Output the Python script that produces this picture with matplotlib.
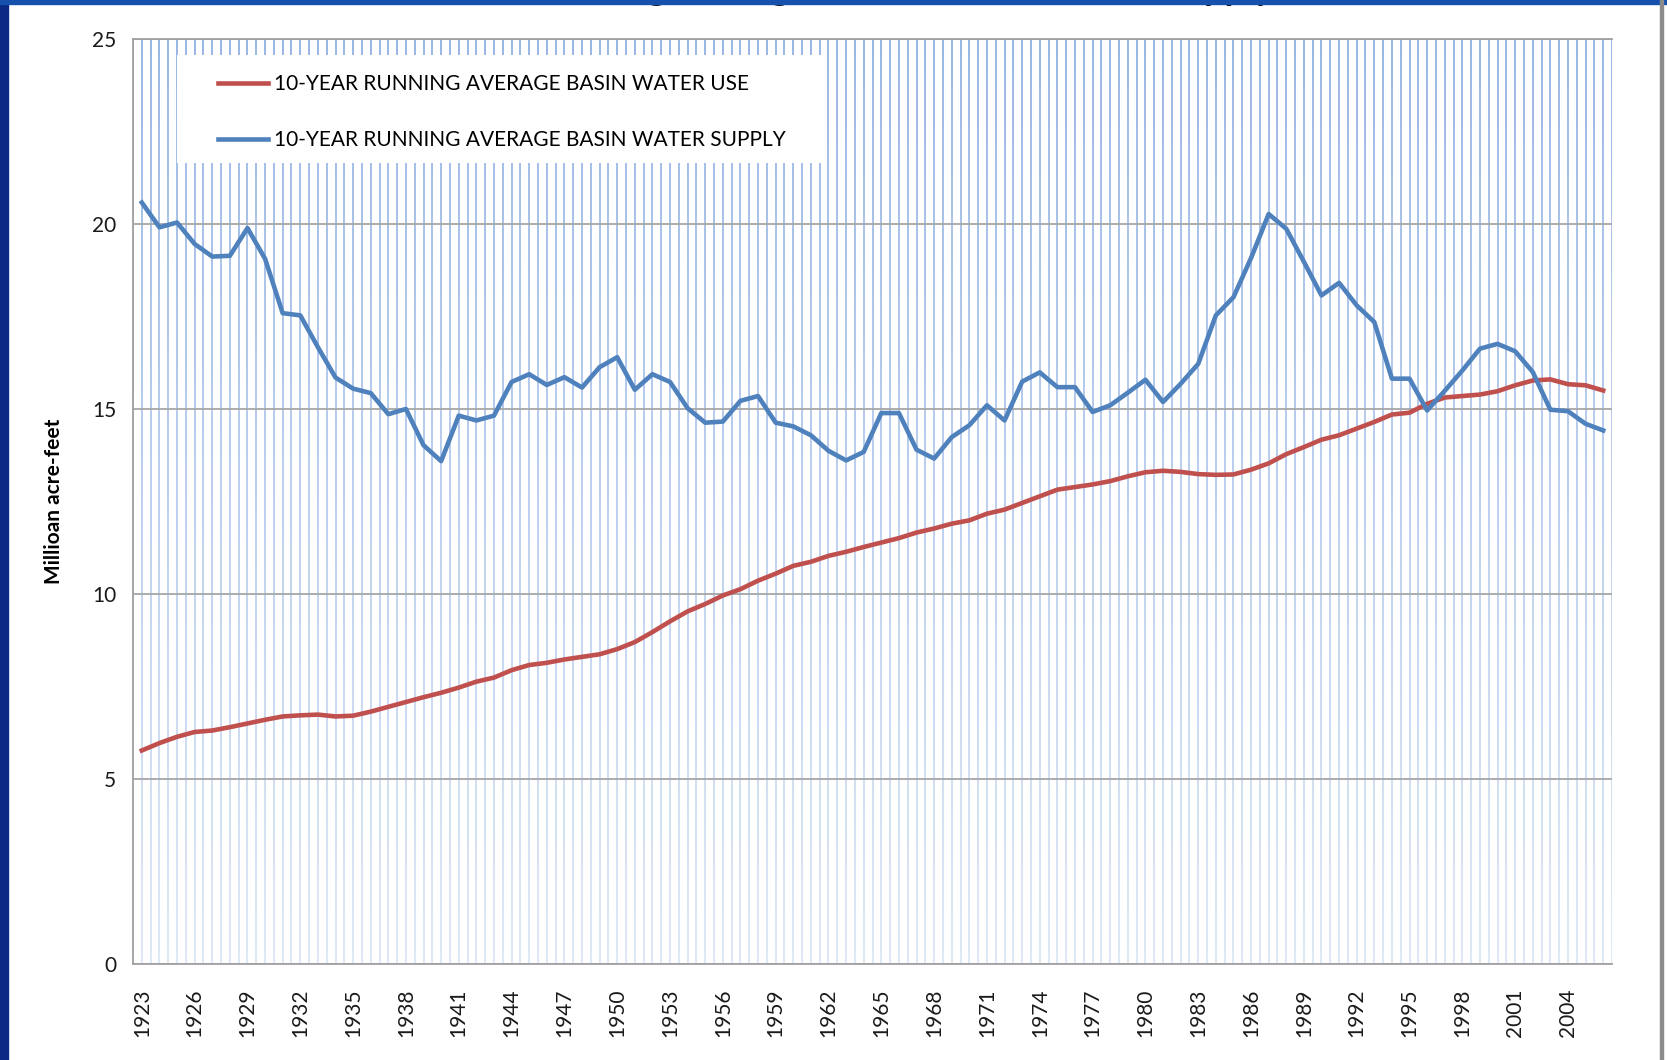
import numpy as np
import matplotlib.pyplot as plt
from matplotlib.patches import Rectangle

# data (million acre-feet)
years = np.arange(1923, 2007)
water_use = [5.77, 5.97, 6.14, 6.27, 6.31, 6.40, 6.50, 6.60, 6.69, 6.72,
             6.74, 6.69, 6.71, 6.82, 6.95, 7.08, 7.21, 7.33, 7.47, 7.63,
             7.74, 7.94, 8.08, 8.14, 8.23, 8.30, 8.37, 8.51, 8.70, 8.97,
             9.26, 9.53, 9.73, 9.96, 10.13, 10.36, 10.55, 10.76, 10.87, 11.03,
             11.14, 11.27, 11.39, 11.51, 11.66, 11.77, 11.90, 11.99, 12.17, 12.28,
             12.46, 12.64, 12.82, 12.89, 12.96, 13.05, 13.18, 13.29, 13.33, 13.30,
             13.24, 13.22, 13.23, 13.36, 13.53, 13.78, 13.97, 14.17, 14.29, 14.47,
             14.65, 14.85, 14.90, 15.14, 15.31, 15.35, 15.39, 15.48, 15.64, 15.77,
             15.80, 15.67, 15.64, 15.50]
water_supply = [20.58, 19.91, 20.04, 19.46, 19.12, 19.14, 19.89, 19.06, 17.59, 17.53,
                16.67, 15.85, 15.55, 15.43, 14.86, 15.00, 14.02, 13.59, 14.82, 14.69,
                14.82, 15.73, 15.94, 15.65, 15.86, 15.58, 16.13, 16.40, 15.52, 15.94,
                15.73, 15.02, 14.63, 14.66, 15.22, 15.35, 14.63, 14.53, 14.29, 13.87,
                13.61, 13.84, 14.89, 14.89, 13.90, 13.66, 14.24, 14.56, 15.10, 14.69,
                15.74, 15.99, 15.59, 15.59, 14.92, 15.10, 15.44, 15.79, 15.19, 15.68,
                16.22, 17.53, 18.02, 19.08, 20.27, 19.87, 18.98, 18.07, 18.41, 17.80,
                17.35, 15.82, 15.82, 14.96, 15.49, 16.04, 16.63, 16.76, 16.56, 16.00,
                14.98, 14.94, 14.60, 14.42]
tick_years = list(range(1923, 2005, 3))
use_label = "10-YEAR RUNNING AVERAGE BASIN WATER USE"
supply_label = "10-YEAR RUNNING AVERAGE BASIN WATER SUPPLY"
title_text = "10-Year Running Average Basin Water Use and Supply"

plt.rcParams['font.family'] = ['Lato', 'DejaVu Sans']

fig = plt.figure(figsize=(16.67, 10.60), dpi=100)
ax = fig.add_axes([0.0798, 0.0906, 0.8872, 0.8726])

# slide frame (dark blue edges, grey right border)
fig.patches.append(Rectangle((0, 0), 8 / 1667, 1, transform=fig.transFigure,
                             color='#0a2a86', zorder=10))
fig.patches.append(Rectangle((0, 1 - 4 / 1060), 1, 4 / 1060, transform=fig.transFigure,
                             color='#1652ad', zorder=10))
fig.patches.append(Rectangle((1660 / 1667, 0), 3 / 1667, 1, transform=fig.transFigure,
                             color='#8c8c8c', zorder=10))
# slide title, only the tips of its descenders show below the top edge
fig.text(0.5, 1 + 0.5 / 1060, title_text, ha='center', va='baseline',
         fontsize=26, fontweight='bold', color='#111111', zorder=5)

x0, x1 = years[0] - 0.5, years[-1] + 0.5

# striped plot background, fading towards the bottom
ax.vlines(np.arange(x0, x1 + 0.01, 0.5), 0, 25, color='#89abe2', lw=1.2, zorder=0.5)
fade = np.ones((200, 1, 4))
fade[..., 3] = np.linspace(0.0, 0.68, 200)[:, None]
ax.imshow(fade, extent=(x0, x1, 0, 25), aspect='auto', origin='upper',
          interpolation='bilinear', zorder=0.6)

ax.plot(years, water_use, color='#c0504d', lw=3.3, zorder=3, label=use_label,
        solid_joinstyle='round')
ax.plot(years, water_supply, color='#4f81bd', lw=3.3, zorder=3, label=supply_label,
        solid_joinstyle='round')

ax.set_xlim(x0, x1)
ax.set_ylim(0, 25)
ax.set_yticks(range(0, 26, 5))
ax.set_xticks(tick_years)
ax.set_xticklabels([str(y) for y in tick_years], rotation=90)
ax.yaxis.grid(True, color='#a6a6a6', lw=1.3)
ax.tick_params(axis='both', length=0, labelsize=15, colors='#1a1a1a')
ax.tick_params(axis='y', pad=12)
ax.tick_params(axis='x', pad=18)
for side in ['left', 'bottom', 'top']:
    ax.spines[side].set_color('#a0a0a0')
    ax.spines[side].set_linewidth(1.3)
ax.spines['right'].set_visible(False)

ax.set_ylabel("Millioan acre-feet", fontsize=15, fontweight='bold', labelpad=20)

# legend on a white box
ax.add_patch(Rectangle((0.0297, 0.866), 0.439, 0.117, transform=ax.transAxes,
                       facecolor='white', edgecolor='none', zorder=4))
leg = ax.legend(loc='upper left', bbox_to_anchor=(0.0575, 0.962), frameon=False,
                fontsize=15, handlelength=2.4, handletextpad=0.3, labelspacing=1.72,
                borderpad=0, borderaxespad=0)
leg.set_zorder(5)
for line in leg.get_lines():
    line.set_linewidth(3.3)

fig.savefig('out.png', dpi=100, facecolor='white')
